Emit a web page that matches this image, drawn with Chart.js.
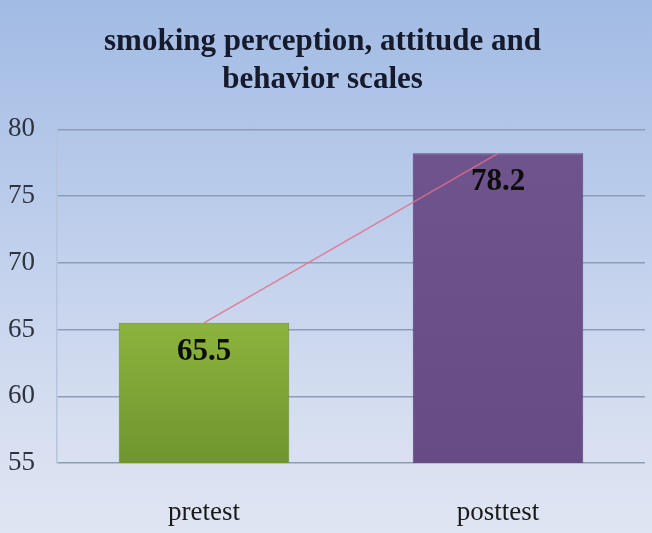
<!DOCTYPE html>
<html>
<head>
<meta charset="utf-8">
<script src="https://cdn.jsdelivr.net/npm/chart.js@4.4.0/dist/chart.umd.min.js"></script>
<style>
  html, body { margin: 0; padding: 0; }
  body {
    width: 652px; height: 533px; overflow: hidden;
    background: linear-gradient(to bottom, #a2bbe4 0%, #bccdeb 40%, #d4ddf0 75%, #dfe5f2 100%);
  }
  #wrap { position: relative; width: 652px; height: 533px; }
</style>
</head>
<body>
<div id="wrap"><canvas id="scoreChart"></canvas></div>
<script>
// ---------------- data ----------------
const categories = ["pretest", "posttest"];
const scores = [65.5, 78.2];
const yTicks = [55, 60, 65, 70, 75, 80];
const titleLines = ["smoking perception, attitude and", "behavior scales"];

const serif = "'Liberation Serif', 'DejaVu Serif', serif";

// gradient per bar
function barFill(ctx) {
  const chart = ctx.chart;
  const area = chart.chartArea;
  if (!area) return "#7fa537";
  const g = chart.ctx.createLinearGradient(0, area.top, 0, area.bottom);
  if (ctx.dataIndex === 0) {
    g.addColorStop(0, "#b4d65a");
    g.addColorStop(0.6, "#8bb23c");
    g.addColorStop(1, "#6f952f");
  } else {
    g.addColorStop(0, "#6f548e");
    g.addColorStop(1, "#664b84");
  }
  return g;
}

// value labels inside the bars
const valueLabels = {
  id: "valueLabels",
  afterDatasetsDraw(chart) {
    const meta = chart.getDatasetMeta(1);
    const c = chart.ctx;
    c.save();
    c.font = "bold 31px " + serif;
    c.fillStyle = "#0d0d0d";
    c.textAlign = "center";
    c.textBaseline = "middle";
    meta.data.forEach((bar, i) => {
      c.fillText(String(scores[i]), bar.x, bar.y + 29);
    });
    c.restore();
  },
};

const scoreCTX = document.getElementById("scoreChart");

const config = {
  data: {
    labels: categories,
    datasets: [
      {
        type: "line",
        data: scores,
        borderColor: "rgba(226, 110, 140, 0.85)",
        borderWidth: 1.5,
        pointRadius: 0,
        tension: 0,
        order: 0,
      },
      {
        type: "bar",
        data: scores,
        backgroundColor: barFill,
        borderColor: ["#6a8c2c", "#5a4176"],
        borderWidth: 1,
        barPercentage: 0.58,
        categoryPercentage: 1,
        order: 1,
      },
    ],
  },
  options: {
    responsive: false,
    animation: false,
    layout: { padding: { left: 0, right: 7, top: 0, bottom: 0 } },
    plugins: {
      legend: { display: false },
      tooltip: { enabled: false },
      title: {
        display: true,
        text: titleLines,
        color: "#151a2c",
        font: { family: serif, size: 31, weight: "bold", lineHeight: 1.23 },
        padding: { top: 23, bottom: 30 },
      },
    },
    scales: {
      x: {
        grid: { display: false, drawTicks: false },
        border: { display: false },
        ticks: {
          color: "#1a1a1a",
          font: { family: serif, size: 27 },
          padding: 34,
        },
        afterFit(scale) { scale.height = 70; },
      },
      y: {
        min: 55,
        max: 80,
        afterBuildTicks(scale) { scale.ticks = yTicks.map(v => ({ value: v })); },
        grid: { color: "#8d9db7", lineWidth: 1.5, drawTicks: false },
        border: { display: true, color: "#b5c3dc", width: 1.5 },
        ticks: {
          color: "#2e3340",
          font: { family: serif, size: 27 },
          padding: 22,
        },
        afterFit(scale) { scale.width = 57; },
      },
    },
  },
  plugins: [valueLabels],
};

scoreCTX.width = 652;
scoreCTX.height = 533;
const scoreChart = new Chart(scoreCTX, config);
</script>
</body>
</html>
